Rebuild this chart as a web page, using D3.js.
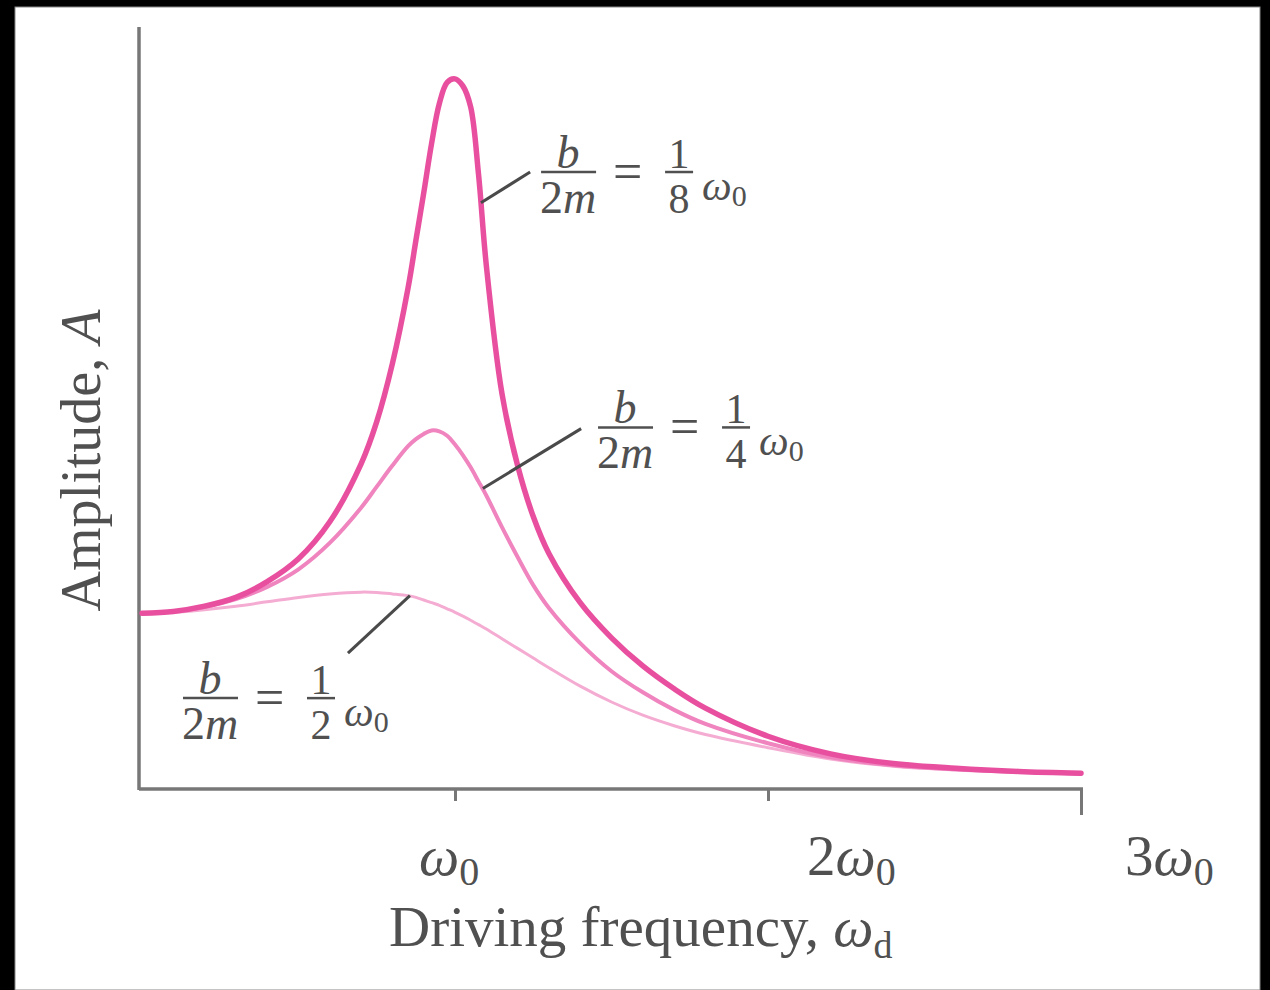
<!DOCTYPE html>
<html lang="en">
<head>
<meta charset="UTF-8" />
<title>Amplitude vs driving frequency</title>
<script src="https://d3js.org/d3.v7.min.js"></script>
<style>
    html, body { margin: 0; padding: 0; background: #000; }
    svg { display: block; }
    text { font-family: "Liberation Serif", "DejaVu Serif", serif; fill: #505050; }
</style>
</head>
<body>
<div id="chart"></div>
<script>
    // --- Data ---
    const omega = [0, 0.1, 0.2, 0.3, 0.4, 0.5, 0.6, 0.7, 0.75, 0.8, 0.85, 0.875, 0.9, 0.925, 0.95, 0.975,
                   1.0, 1.025, 1.05, 1.075, 1.1, 1.15, 1.2, 1.25, 1.3, 1.4, 1.5, 1.6, 1.7, 1.8, 2.0, 2.2, 2.4, 2.6, 2.8, 3.0];

    // b/2m = 1/8 w0
    const ampEighth = [1.00, 1.01, 1.04, 1.09, 1.18, 1.31, 1.52, 1.85, 2.09, 2.42, 2.85, 3.12, 3.39, 3.67, 3.90, 4.02,
                       4.04, 4.00, 3.88, 3.50, 2.98, 2.25, 1.84, 1.55, 1.34, 1.06, 0.86, 0.70, 0.57, 0.46, 0.30, 0.20, 0.145, 0.118, 0.10, 0.09];
    // b/2m = 1/4 w0
    const ampQuarter = [1.00, 1.01, 1.035, 1.08, 1.15, 1.25, 1.40, 1.60, 1.72, 1.84, 1.95, 1.99, 2.02, 2.04, 2.035, 2.01,
                        1.96, 1.90, 1.83, 1.75, 1.67, 1.49, 1.32, 1.16, 1.03, 0.83, 0.67, 0.55, 0.45, 0.37, 0.26, 0.18, 0.135, 0.112, 0.098, 0.088];
    // b/2m = 1/2 w0
    const ampHalf = [1.00, 1.005, 1.02, 1.04, 1.065, 1.09, 1.11, 1.12, 1.118, 1.11, 1.10, 1.09, 1.075, 1.06, 1.045, 1.025,
                     1.005, 0.983, 0.96, 0.935, 0.91, 0.855, 0.80, 0.745, 0.69, 0.585, 0.495, 0.42, 0.36, 0.31, 0.235, 0.17, 0.13, 0.108, 0.095, 0.085];

    const seriesNames = ["half", "quarter", "eighth"];
    const seriesDenoms = ["2", "4", "8"];

    const tickValues = [1, 2, 3];
    const tickCoefs = ["", "2", "3"];

    // leader lines: [curve point w, A, label-end w, A]
    const leaderEighth = [1.083, 3.335, 1.24, 3.51];
    const leaderQuarter = [1.089, 1.71, 1.403, 2.05];
    const leaderHalf = [0.856, 1.10, 0.658, 0.773];
    // where the fraction bar of each label starts
    const labelEighth = [1.275, 3.51];
    const labelQuarter = [1.457, 2.057];
    const labelHalf = [0.131, 0.517];

    // --- Setup ---
    const W = 1270, H = 990;
    const svg = d3.select("#chart").append("svg").attr("width", W).attr("height", H);

    svg.append("rect").attr("width", W).attr("height", H).attr("fill", "#000");
    svg.append("rect").attr("x", 15).attr("y", 7).attr("width", 1245).attr("height", H - 7)
        .attr("fill", "#fff").attr("stroke", "#888").attr("stroke-width", 1);

    const x = d3.scaleLinear().domain([0, 3]).range([142, 1081]);
    const y = d3.scaleLinear().domain([0, 4.335]).range([789, 27]);

    // --- Axes ---
    const axisColor = "#777";
    const xAxis = svg.append("g")
        .attr("transform", `translate(0,${y(0)})`)
        .call(d3.axisBottom(x).tickValues(tickValues).tickSize(12).tickSizeOuter(0).tickFormat(""));
    xAxis.select(".domain").attr("stroke", axisColor).attr("stroke-width", 3.5)
        .attr("d", `M${x(0) - 3},0H${x(3) + 2}`);
    xAxis.selectAll(".tick line").attr("stroke", axisColor).attr("stroke-width", 3);
    xAxis.selectAll(".tick line").filter(d => d === 3).attr("y2", 26);

    const yAxis = svg.append("g")
        .attr("transform", `translate(${x(0) - 3},0)`)
        .call(d3.axisLeft(y).tickValues([]).tickSizeOuter(0));
    yAxis.select(".domain").attr("stroke", axisColor).attr("stroke-width", 3.5)
        .attr("d", `M0,${y(4.335)}V${y(0) + 1}`);

    // tick labels (shifted like in the original figure)
    const labelShift = [-36, 39, 44];
    tickValues.forEach((v, i) => {
        const t = svg.append("text")
            .attr("x", x(v) + labelShift[i])
            .attr("y", 875)
            .attr("font-size", 57);
        if (tickCoefs[i]) t.append("tspan").text(tickCoefs[i]);
        t.append("tspan").attr("font-style", "italic").text("\u03c9");
        t.append("tspan").attr("font-size", 40).attr("dy", 10).text("0");
    });

    // axis titles
    const xt = svg.append("text").attr("x", 389).attr("y", 946).attr("font-size", 57);
    xt.append("tspan").text("Driving frequency, ");
    xt.append("tspan").attr("font-style", "italic").text("\u03c9");
    xt.append("tspan").attr("font-size", 38).attr("dy", 12).text("d");

    const yt = svg.append("text")
        .attr("transform", `translate(100,${(308 + 613) / 2}) rotate(-90)`)
        .attr("text-anchor", "middle")
        .attr("font-size", 56);
    yt.append("tspan").text("Amplitude, ");
    yt.append("tspan").attr("font-style", "italic").text("A");

    // --- Curves ---
    const line = d3.line()
        .x((d, i) => x(omega[i]))
        .y(d => y(d))
        .curve(d3.curveCatmullRom.alpha(0.5));

    const styles = {
        half: { color: "#f5acd2", width: 3 },
        quarter: { color: "#ef84bf", width: 4 },
        eighth: { color: "#e8509f", width: 5.5 }
    };
    const amps = { half: ampHalf, quarter: ampQuarter, eighth: ampEighth };

    svg.append("g").selectAll("path")
        .data(seriesNames)
        .join("path")
        .attr("d", n => line(amps[n]))
        .attr("fill", "none")
        .attr("stroke", n => styles[n].color)
        .attr("stroke-width", n => styles[n].width)
        .attr("stroke-linecap", "round");

    // --- Leader lines ---
    [leaderEighth, leaderQuarter, leaderHalf].forEach(l => {
        svg.append("line")
            .attr("x1", x(l[0])).attr("y1", y(l[1]))
            .attr("x2", x(l[2])).attr("y2", y(l[3]))
            .attr("stroke", "#4a4a4a").attr("stroke-width", 3);
    });

    // --- Labels: b/2m = 1/n w0 ---
    function fracLabel(pos, denom) {
        const g = svg.append("g").attr("transform", `translate(${x(pos[0])},${y(pos[1])})`);
        const ink = "#505050";
        g.append("line").attr("x1", 0).attr("x2", 55).attr("y1", 0).attr("y2", 0)
            .attr("stroke", ink).attr("stroke-width", 2.5);
        g.append("text").attr("x", 27).attr("y", -4).attr("text-anchor", "middle")
            .attr("font-size", 46).attr("font-style", "italic").text("b");
        const den = g.append("text").attr("x", 27).attr("y", 41).attr("text-anchor", "middle").attr("font-size", 46);
        den.append("tspan").text("2");
        den.append("tspan").attr("font-style", "italic").text("m");
        g.append("text").attr("x", 72).attr("y", 17).attr("font-size", 52).text("=");
        g.append("line").attr("x1", 124).attr("x2", 152).attr("y1", 0).attr("y2", 0)
            .attr("stroke", ink).attr("stroke-width", 2.5);
        g.append("text").attr("x", 138).attr("y", -4).attr("text-anchor", "middle").attr("font-size", 42).text("1");
        g.append("text").attr("x", 138).attr("y", 41).attr("text-anchor", "middle").attr("font-size", 42).text(denom);
        const w = g.append("text").attr("x", 161).attr("y", 28).attr("font-size", 42);
        w.append("tspan").attr("font-style", "italic").text("\u03c9");
        w.append("tspan").attr("font-size", 30).attr("dy", 6).text("0");
    }
    fracLabel(labelEighth, seriesDenoms[2]);
    fracLabel(labelQuarter, seriesDenoms[1]);
    fracLabel(labelHalf, seriesDenoms[0]);
</script>
</body>
</html>
